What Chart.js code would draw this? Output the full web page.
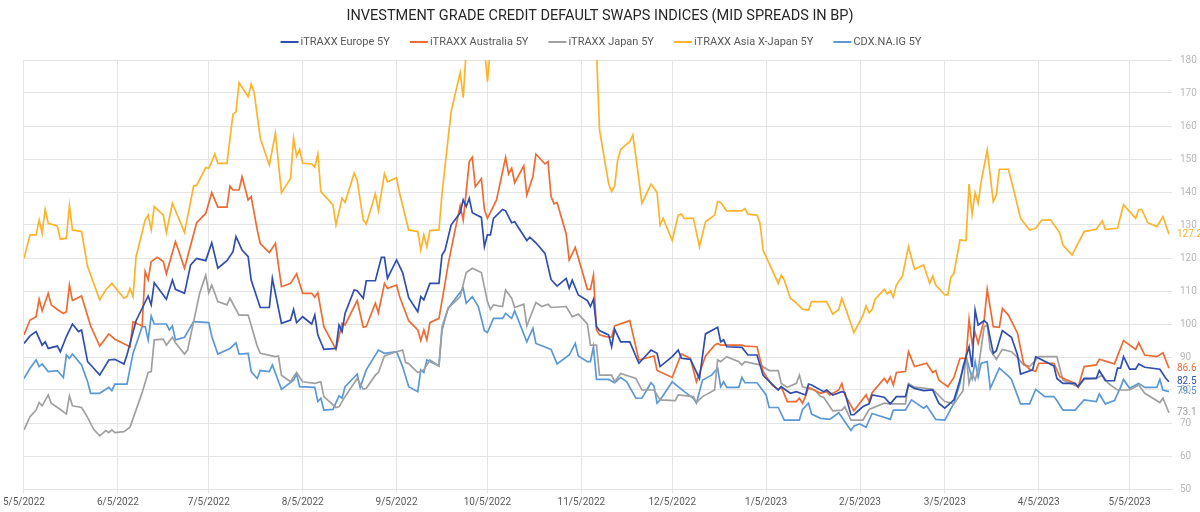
<!DOCTYPE html>
<html>
<head>
<meta charset="utf-8">
<script src="https://cdn.jsdelivr.net/npm/chart.js@4.4.1/dist/chart.umd.min.js"></script>
<style>
  html, body { margin:0; padding:0; background:#fff; }
  #wrap { width:1200px; height:512px; position:relative; }
</style>
</head>
<body>
<div id="wrap"><canvas id="cds"></canvas></div>
<script>
const chartTitle = 'INVESTMENT GRADE CREDIT DEFAULT SWAPS INDICES (MID SPREADS IN BP)';
const startDate  = '5/5/2022';   // day 0 of the x axis
const lastDay    = 379;
const tickLabels = ['5/5/2022','6/5/2022','7/5/2022','8/5/2022','9/5/2022','10/5/2022','11/5/2022',
                    '12/5/2022','1/5/2023','2/5/2023','3/5/2023','4/5/2023','5/5/2023'];
const yTicks     = { min:50, max:180, step:10 };

const seriesNames  = ['iTRAXX Europe 5Y','iTRAXX Australia 5Y','iTRAXX Japan 5Y','iTRAXX Asia X-Japan 5Y','CDX.NA.IG 5Y'];
const seriesColors = ['#2f4eb0','#ee6c33','#a0a0a0','#fdb32b','#5b98d6'];

// days since 5/5/2022 and mid spreads (bp)
const euDays = [0,2,4,6,7,8,11,12,14,16,18,19,21,23,25,28,30,33,34,37,41,42,43,47,49,50,53,55,57,60,62,64,67,69,70,72,74,75,78,81,82,85,88,89,90,92,95,96,97,99,103,104,105,106,109,110,112,113,116,118,119,120,123,125,127,130,131,132,134,137,138,139,141,144,145,146,147,148,151,152,153,154,155,158,159,161,162,166,167,169,172,174,176,179,180,181,183,186,187,188,189,190,193,194,195,197,200,203,204,207,209,210,214,216,217,220,223,225,229,230,231,232,237,239,242,244,245,249,250,253,255,258,259,260,264,265,267,270,271,273,274,277,279,280,284,286,288,291,292,294,297,300,302,304,307,309,311,312,313,314,315,317,318,320,321,323,326,328,329,333,334,340,341,343,347,348,350,354,355,357,360,361,362,363,365,367,368,370,375,377,378];
const euVals = [94.1,96.4,97.7,93.6,94.6,92.6,93.3,91.6,96.2,100,97.7,98.2,88.6,86.6,84.5,89.1,89.3,87.9,90.6,101,108.5,105.8,112.5,107.5,113.3,110.5,109.3,117.9,119.9,119.2,124.6,116.9,119.2,121.9,126.5,122.4,120.4,113.3,105,105,113.8,100.2,101.2,104.4,100.4,102.2,100,102.7,96.7,92.3,92.6,99.7,97.7,103.2,110.3,110.1,107.8,113.1,113.1,120.2,120.2,113.8,119.4,115.6,108,103.7,108.3,107.3,112.3,112.3,120.9,122.4,130,133.7,137.6,135.6,138.1,133.7,132.3,123.4,127,127,132,134.7,134.3,130.7,131,125.3,126.3,124.6,121.4,113.5,111.5,113.8,110.8,113.3,108.8,107.1,105.3,107.5,99.2,98,96.7,93.1,98.4,94.6,94.6,88.1,89.1,92.1,91.1,87.1,90.1,92.1,89.6,89.3,83.5,97,99,94.6,95.2,93.1,92.9,90.6,90.6,84.5,83.5,80,81,79,79.5,78.5,81.8,81.5,79.5,80,78.5,79.5,79.2,72.5,72.5,75,75.8,78.5,77.8,75.8,78,78,81.5,80.5,79.8,80,76,74.5,77,83,90.1,93.1,86.9,104.2,99.7,101,100.2,91.1,91.9,98,96,90.6,84.8,86.1,90.1,87.3,83.5,82,82,81,83.5,83.5,85.9,82.8,82.8,86.6,86.6,90.1,86.3,86.3,87.9,86.9,86.3,83.5,82.5];

const auDays = [0,2,4,5,6,8,9,11,13,14,15,16,19,22,25,28,30,35,36,39,40,41,42,44,46,47,50,51,53,57,60,62,64,67,68,69,71,72,74,75,77,78,81,83,85,88,90,92,95,96,97,99,103,105,106,110,112,113,116,117,119,120,123,124,127,130,131,132,133,134,137,139,140,142,144,145,146,147,148,149,151,152,153,156,159,160,161,162,165,166,168,169,172,173,174,175,176,179,180,182,186,187,188,189,190,192,194,195,200,203,208,209,214,217,220,222,225,228,229,230,237,238,242,244,245,247,249,250,252,255,256,257,258,259,263,265,266,269,270,271,274,278,279,280,284,285,286,287,288,291,292,294,298,300,301,302,305,307,309,311,312,313,314,315,317,318,320,322,323,325,328,330,332,334,335,340,342,347,348,350,354,355,360,363,367,368,370,374,376,378];
const auVals = [96.7,101.2,102.2,107.5,104,109.3,105.8,104.4,103.2,103.7,111.8,107.1,108.5,99.4,93.3,97,95.4,93.1,100.7,99.4,115.9,113.4,118.9,120.2,118.9,115.2,124.9,122.4,116.9,130.7,133.5,139.8,135.4,135.4,141.8,140.6,140.6,144.6,137.6,138.6,128.5,124.4,121.6,124.4,111.3,112.3,115.2,109.3,109.3,108.1,109.5,99.2,92.3,100.2,99.7,107.1,99,99.2,106.3,103.4,112.3,110.8,111.8,108.3,101,98.2,95,98.2,95.2,100.4,101.7,112.3,117.9,127,135.8,131.5,140.1,149.2,150.5,141.6,144.1,134.7,132,137.6,150.5,145.5,147.2,142.8,147.9,139.1,144.6,151.5,148.5,149.2,138.6,136.4,136.8,127.3,119.4,123.2,110.5,110.5,114.8,98.2,96.7,96.2,96,99.4,101,89.1,90.3,85.9,83.8,90.9,89.6,82.5,90.3,93.6,94.1,93.6,93.6,93.3,93.1,85.6,84.2,81.5,80.2,81,76.5,76.5,77.5,76,78,80.8,79,79.5,78.5,80,82,78.5,73.7,78.5,76.5,79.2,83.5,82.2,84,81.5,85.3,85.6,91.6,87.1,88.1,85.3,85.9,83,81,83.8,89.6,89.6,101.4,94.1,97.4,94.1,101.4,110.5,99.2,99,104.7,102.7,97.2,88.1,86.3,85.6,88.1,88.1,84,82,80.8,87.1,87.6,89.3,87.9,95,92.3,94.3,90.6,90.1,91.3,86.6];

const jpDays = [0,2,4,5,6,8,9,12,14,15,16,19,21,23,25,27,28,29,30,33,35,39,41,42,43,46,47,49,50,53,54,58,60,61,62,64,67,68,71,74,77,78,83,84,85,88,89,90,92,96,98,99,103,104,106,110,112,113,116,117,119,123,125,126,127,130,132,134,137,138,140,144,146,148,151,153,154,155,158,159,161,162,165,166,169,171,173,174,179,181,183,186,187,189,190,194,195,197,202,204,208,210,215,216,221,222,224,228,229,230,232,236,237,238,243,246,249,250,252,255,256,257,261,263,264,267,270,271,273,277,279,284,286,291,292,294,295,300,304,307,310,311,312,313,314,315,317,318,319,321,323,326,328,330,332,335,341,343,348,350,354,356,358,361,365,368,370,375,376,378];
const jpVals = [67.9,71.9,73.9,76.2,75.2,78.5,76,74.1,72.7,78.2,75.2,74.7,71.7,68.1,66.1,67.7,67.1,67.9,67.1,67.4,68.7,79.2,85.3,85.6,95.2,95.4,93.6,96,94.3,90.9,92.1,109.3,114.8,109.5,111.8,106.8,105.8,107.8,102.7,102.7,93.3,91.1,90.1,90.3,84.5,82.5,84,85.3,82.5,82,82.5,78,74.7,74.9,78,83.5,80.2,80.5,84.5,85.3,90.3,91.6,92.1,88.3,88,85.3,86.1,89.1,87.3,99.2,104.7,108.3,115.6,116.9,115.6,106.8,104.4,105.8,105.3,110.3,107.8,105,106,99.4,106.5,105.3,106,105,105.3,102.2,103,100,93.6,93.6,84.5,84.5,82.5,85,83.5,80,80,77,76.8,78.5,78,76.2,78,80,89.1,88.6,90.1,88.6,87.6,88.6,87.6,85.9,85.9,82,80.8,82,84.5,81,80,78,77.8,73.7,73.9,74.9,70.9,70.9,74.1,76,75.8,75.8,82,80.8,80.8,80.2,76.5,75.8,79.8,90.9,82,85,83,86.1,99.2,99.7,92.1,89.3,92.3,91.6,89.9,87.6,87.1,90.1,90.1,83,81,83.2,83.5,84.5,82,80,80,81.5,79,76.2,77.5,73.1];

// above 180 the line leaves the plot, those points are only rough guesses
const asDays = [0,2,4,5,6,7,8,11,12,14,15,16,19,21,25,27,29,33,34,35,36,37,40,41,42,43,46,47,49,53,56,57,60,61,62,63,64,67,69,70,71,74,75,76,78,81,83,85,88,89,90,91,92,95,96,97,98,102,103,105,106,109,110,112,113,116,117,119,120,123,124,127,130,131,132,133,134,137,138,141,144,145,146,150,152,153,154,160,170,180,188,189,190,193,194,195,196,197,200,201,202,204,207,209,210,211,214,216,217,218,221,223,225,228,229,230,232,237,238,239,242,243,244,249,250,251,253,255,257,259,260,265,267,269,270,271,274,277,278,279,280,281,284,285,286,287,288,290,292,294,297,299,300,301,304,305,306,307,309,311,312,313,314,315,316,318,320,321,322,325,327,329,332,334,336,339,342,343,346,350,354,356,357,361,363,367,368,369,371,374,376,378];
const asVals = [119.9,127,127,131.5,127.5,134.7,130.5,129.7,125.7,126,135.8,128.5,128,117.4,107.3,110.3,112.3,107.8,108.3,110.8,108.3,120.4,131.5,133,128.5,135.6,133,127.7,136.6,127.7,141.8,142,147.4,147.2,149.2,151.5,148.7,148.7,163.6,164.3,173.1,168.9,172.7,170.1,156.3,148.2,157.8,139.8,144.1,156.3,150.9,152.9,148.7,148.5,147.5,151.5,140.1,136.1,130,138.1,136.8,145.7,143.6,131.5,130.3,139.4,134.3,145.5,143.1,144.3,139.6,128.5,128,122.4,127,123.4,128.3,128.5,139.6,164.3,176.2,168.6,183,190,184,173.4,184,195,200,195,190,183,158.8,142.6,140.1,141.8,149.7,152.9,155.3,157.3,150.7,136.6,142.4,139.8,130,132,125.3,133,133.3,132,132,123.4,131,133,137.1,136.8,134.3,134.3,135,133.3,133,130.5,122.4,112.3,114.8,113.3,107.8,106.3,104.5,104.2,106.8,106.8,103,104.4,107.8,105.3,97.4,102.7,105.5,103.4,104.4,107.5,110.5,109.1,110.1,108.1,111.8,114.5,123.4,116.6,117.9,112.3,114.5,111.8,108.8,108.8,114.3,115.3,125.5,125.3,142.4,133.3,139.8,136.6,143.1,152.7,137.1,139.1,146.9,146.9,139.6,132,128.5,129,131.5,131.5,127.5,123.9,120.9,128,128.7,131.3,128.7,129,136.1,132,134.7,134.7,130.7,129.5,132.5,127.2];

const cdxDays = [0,2,4,5,6,8,11,13,14,15,16,19,21,22,25,28,29,30,34,36,39,40,41,42,43,47,48,49,50,53,56,61,62,64,68,70,71,74,75,77,78,81,82,85,89,90,91,96,97,98,99,102,104,105,106,110,111,113,117,119,123,125,127,130,131,132,133,137,138,140,145,146,148,150,152,153,155,158,159,161,162,166,168,169,174,176,180,182,183,186,187,188,189,193,195,197,199,202,204,207,208,209,210,214,218,221,222,224,227,229,230,231,232,236,237,238,242,245,246,249,251,256,257,259,260,263,266,269,273,274,276,278,280,286,287,291,293,297,298,301,304,307,309,310,311,313,314,315,316,318,319,322,325,326,329,332,334,337,340,341,343,347,350,354,355,357,360,362,363,365,368,370,374,375,376,378];
const cdxVals = [83.5,86.6,89.1,87.1,87.9,85.6,85.9,83.8,90.6,89.6,90.9,87.6,82.5,79,79,80.8,79.8,81.8,81.8,91.1,99.2,99.2,95.2,102.4,100,100,98.2,99.4,95.2,96,100.7,100.4,96.2,90.9,92.6,94.3,90.9,91.1,85.6,83.5,85.9,85.6,87.6,80.2,83,84.8,81,80.8,76.5,77.5,73.9,74.1,78.2,77.5,81,84.8,80.8,86.1,92.1,91.1,91.6,87.1,81,79.5,86.1,85.3,89.1,87.3,98.2,104.7,110.8,106.3,108.3,105.3,98,97.4,101.7,101.7,103.2,101.7,104,94.6,98.7,94.1,92.3,87.9,90.6,94.1,90.3,88.6,88.6,93.1,83.2,83.2,82.2,83.8,82.5,77.5,77.5,82.2,81.2,76,77,82.5,79.5,77.5,76,83,84.5,86.6,81,82.5,80.8,80.8,83.8,82.2,82.2,78.5,74.7,74.7,70.9,70.9,74,76,72.7,71.4,71.1,73.1,67.7,69.1,69.7,68.7,72.9,71.1,73.9,73.9,77,74.5,75.2,71.1,70.9,76,82,87.1,90.1,83.5,88.6,84,88.1,88.6,80.5,86.6,84.2,83.2,75.8,75.8,80.2,78,78,76.8,73.9,73.9,77,76.5,78.8,75.8,76.8,80.8,83.2,80.5,82,80.8,80.8,83.2,80,79.5];

const seriesDays = [euDays, auDays, jpDays, asDays, cdxDays];
const seriesVals = [euVals, auVals, jpVals, asVals, cdxVals];

const FONT = "Roboto, 'DejaVu Sans', sans-serif";
const GRID = '#e4e4e4';

function dayOf(label) {
    const [m, d, y] = label.split('/').map(Number);
    const [m0, d0, y0] = startDate.split('/').map(Number);
    return Math.round((Date.UTC(y, m-1, d) - Date.UTC(y0, m0-1, d0)) / 86400000);
}
const tickDays = tickLabels.map(dayOf);

// title + line legend drawn above the plot
const headerPlugin = {
    id: 'header',
    afterDraw(chart) {
        const ctx = chart.ctx;
        ctx.save();
        ctx.fillStyle = '#262626';
        ctx.font = `400 14.5px ${FONT}`;
        ctx.textAlign = 'center'; ctx.textBaseline = 'middle';
        ctx.fillText(chartTitle, 600, 16);

        ctx.font = `400 11px ${FONT}`;
        const lineW = 18, gap = 2, itemGap = 20;
        const widths = chart.data.datasets.map(ds => ctx.measureText(ds.label).width);
        const total = widths.reduce((a,w) => a + lineW + gap + w, 0) + itemGap*(widths.length-1);
        let x = 601 - total/2;
        const y = 42;
        chart.data.datasets.forEach((ds, i) => {
            ctx.strokeStyle = ds.borderColor; ctx.lineWidth = 2;
            ctx.beginPath(); ctx.moveTo(x, y); ctx.lineTo(x + lineW, y); ctx.stroke();
            ctx.fillStyle = '#595959'; ctx.textAlign = 'left';
            ctx.fillText(ds.label, x + lineW + gap, y);
            x += lineW + gap + widths[i] + itemGap;
        });
        ctx.restore();
    }
};

// last value printed at the right edge of each series
const endLabelPlugin = {
    id: 'endLabels',
    afterDatasetsDraw(chart) {
        const ctx = chart.ctx, area = chart.chartArea;
        ctx.save();
        ctx.font = `400 10px ${FONT}`;
        ctx.textAlign = 'left'; ctx.textBaseline = 'middle';
        chart.data.datasets.forEach((ds, i) => {
            const pts = chart.getDatasetMeta(i).data;
            const last = pts[pts.length-1];
            ctx.fillStyle = ds.borderColor;
            ctx.fillText(ds.data[ds.data.length-1].y.toFixed(1), area.right + 5, last.y);
        });
        ctx.restore();
    }
};

new Chart(document.getElementById('cds'), {
    type: 'line',
    data: {
        datasets: seriesNames.map((name, i) => ({
            label: name,
            data: seriesDays[i].map((d, j) => ({ x:d, y:seriesVals[i][j] })),
            borderColor: seriesColors[i],
            backgroundColor: seriesColors[i],
            borderWidth: 1.7,
            pointRadius: 0,
            tension: 0
        }))
    },
    options: {
        responsive: true, maintainAspectRatio: false, animation: false,
        layout: { autoPadding: false, padding: { left:10, right:0, top:60, bottom:0 } },
        plugins: { legend: { display:false }, title: { display:false }, tooltip: { enabled:false } },
        scales: {
            x: {
                type: 'linear', min: 0, max: lastDay,
                afterBuildTicks: s => { s.ticks = tickDays.map(v => ({ value:v })); },
                afterFit: s => { s.height = 23; },
                ticks: { autoSkip:false, maxRotation:0, padding:3, color:'#595959',
                         font:{ family:FONT, size:10 },
                         callback: v => tickLabels[tickDays.indexOf(v)] },
                grid: { color:GRID, tickLength:4 },
                border: { color:GRID }
            },
            y: {
                position: 'right', min: yTicks.min, max: yTicks.max,
                afterFit: s => { s.width = 28; },
                ticks: { stepSize: yTicks.step, padding:8, color:'#b8b8b8', font:{ family:FONT, size:10 } },
                grid: { color:GRID, drawTicks:false },
                border: { display:false }
            }
        }
    },
    plugins: [headerPlugin, endLabelPlugin]
});
</script>
</body>
</html>
